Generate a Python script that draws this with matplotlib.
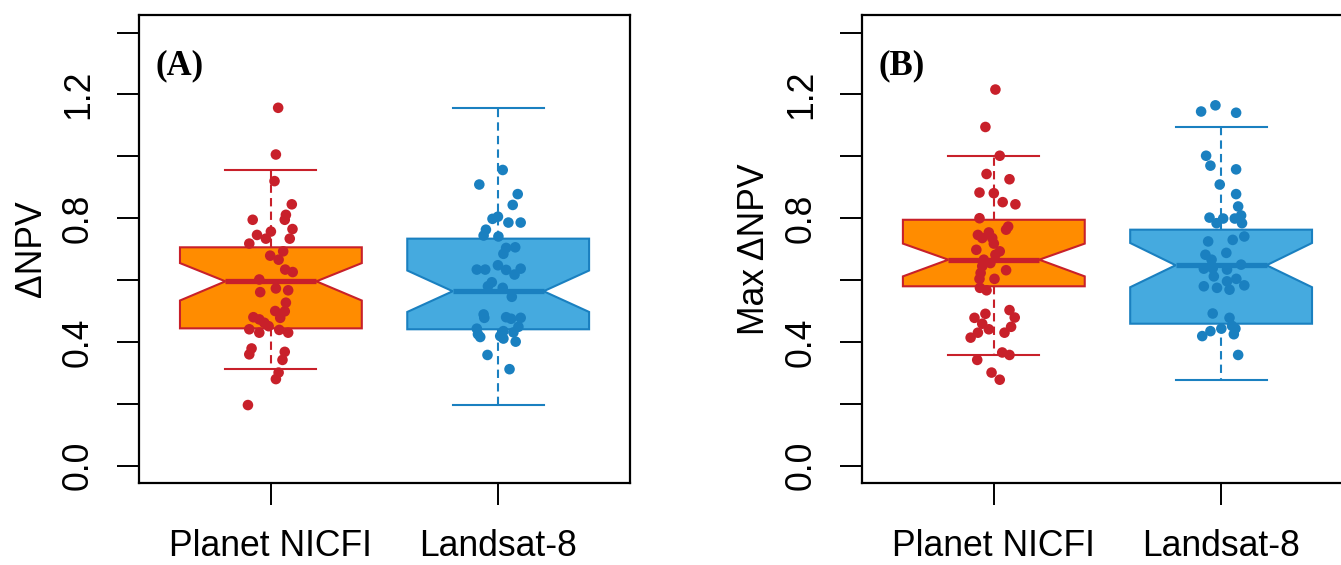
import numpy as np
import matplotlib.pyplot as plt

plt.rcParams['font.family'] = ['Liberation Sans', 'DejaVu Sans']

groups = ['Planet NICFI', 'Landsat-8']
panel_tags = ['(A)', '(B)']
y_titles = ['ΔNPV', 'Max ΔNPV']

# box statistics: [panel][group]
q1 = [[0.444, 0.441], [0.580, 0.459]]
med = [[0.596, 0.564], [0.666, 0.648]]
q3 = [[0.706, 0.734], [0.795, 0.763]]
ci_lo = [[0.534, 0.497], [0.612, 0.577]]
ci_hi = [[0.655, 0.631], [0.718, 0.720]]
whis_lo = [[0.314, 0.196], [0.358, 0.278]]
whis_hi = [[0.956, 1.157], [1.001, 1.095]]

# raw points (jittered stripchart): value and horizontal jitter
a_nicfi_y = [1.157, 1.006, 0.920, 0.845, 0.811, 0.795, 0.795, 0.765, 0.757, 0.746, 0.734, 0.734,
             0.718, 0.693, 0.679, 0.666, 0.634, 0.626, 0.602, 0.573, 0.567, 0.561, 0.527, 0.500,
             0.499, 0.478, 0.480, 0.473, 0.462, 0.451, 0.441, 0.430, 0.439, 0.430, 0.379, 0.360,
             0.368, 0.342, 0.301, 0.280, 0.196]
a_nicfi_dx = [0.032, 0.022, 0.016, 0.092, 0.066, 0.061, -0.080, 0.095, 0.000, -0.061, -0.022, 0.083,
              -0.095, 0.054, -0.003, 0.034, 0.063, 0.096, -0.051, 0.022, 0.076, -0.047, 0.066, 0.019,
              0.061, 0.041, -0.077, -0.051, -0.029, -0.010, -0.095, -0.051, 0.037, 0.076, -0.085, -0.095,
              0.061, 0.051, 0.034, 0.022, -0.101]

a_land_y = [0.956, 0.909, 0.878, 0.843, 0.805, 0.798, 0.786, 0.786, 0.763, 0.744, 0.741, 0.704,
            0.706, 0.685, 0.648, 0.634, 0.634, 0.633, 0.637, 0.618, 0.593, 0.580, 0.575, 0.546,
            0.489, 0.478, 0.480, 0.475, 0.478, 0.443, 0.449, 0.435, 0.425, 0.431, 0.419, 0.416,
            0.411, 0.401, 0.358, 0.312]
a_land_dx = [0.020, -0.083, 0.086, 0.064, -0.001, -0.025, 0.045, 0.099, -0.054, -0.064, 0.001, 0.035,
             0.075, 0.023, -0.001, -0.094, -0.057, 0.035, 0.099, 0.072, -0.028, -0.045, 0.020, 0.060,
             -0.064, -0.061, 0.035, 0.057, 0.099, -0.094, 0.089, 0.023, -0.089, 0.067, 0.009, -0.079,
             0.023, 0.077, -0.047, 0.050]

b_nicfi_y = [1.216, 1.095, 1.002, 0.943, 0.926, 0.883, 0.881, 0.852, 0.845, 0.800, 0.773, 0.763,
             0.746, 0.754, 0.736, 0.736, 0.718, 0.698, 0.693, 0.682, 0.666, 0.655, 0.645, 0.632,
             0.623, 0.604, 0.604, 0.575, 0.567, 0.503, 0.491, 0.478, 0.479, 0.459, 0.449, 0.441,
             0.430, 0.430, 0.414, 0.366, 0.358, 0.342, 0.301, 0.278]
b_nicfi_dx = [0.007, -0.037, 0.026, -0.032, 0.069, -0.063, 0.000, 0.039, 0.095, -0.063, 0.063, 0.054,
              -0.070, -0.022, -0.051, -0.007, 0.000, -0.077, 0.026, 0.007, -0.044, -0.015, -0.051, 0.054,
              -0.058, -0.063, 0.003, -0.061, -0.032, 0.069, -0.037, -0.085, 0.092, -0.051, 0.076, -0.022,
              -0.070, 0.047, -0.102, 0.037, 0.069, -0.073, -0.010, 0.026]

b_land_y = [1.145, 1.165, 1.141, 1.002, 0.970, 0.958, 0.909, 0.878, 0.838, 0.802, 0.784, 0.799,
            0.799, 0.809, 0.784, 0.741, 0.730, 0.725, 0.688, 0.682, 0.666, 0.650, 0.637, 0.638,
            0.634, 0.612, 0.604, 0.596, 0.583, 0.580, 0.575, 0.569, 0.492, 0.478, 0.452, 0.443,
            0.443, 0.435, 0.419, 0.425, 0.358]
b_land_dx = [-0.088, -0.025, 0.066, -0.066, -0.047, 0.066, -0.006, 0.066, 0.075, -0.051, -0.020, 0.009,
             0.060, 0.088, 0.092, 0.102, 0.051, -0.057, 0.023, -0.069, -0.042, 0.088, -0.076, -0.037,
             0.026, -0.032, 0.067, 0.026, 0.102, -0.076, -0.018, 0.037, -0.037, 0.037, 0.048, 0.063,
             0.001, -0.047, -0.083, 0.056, 0.075]

points_y = [[a_nicfi_y, a_land_y], [b_nicfi_y, b_land_y]]
points_dx = [[a_nicfi_dx, a_land_dx], [b_nicfi_dx, b_land_dx]]

fills = ['#FF8C00', '#45AADF']
edges = ['#C8202A', '#1A80C0']

y_ticks = np.arange(0, 1.41, 0.2)
y_ticklabels = ['0.0', '', '0.4', '', '0.8', '', '1.2', '']

fig = plt.figure(figsize=(13.41, 5.65), dpi=100)
lefts = [0.1037, 0.6428]

for p in range(2):
    ax = fig.add_axes([lefts[p], 0.1451, 0.3661, 0.8278])
    for g in range(2):
        stats = [dict(q1=q1[p][g], med=med[p][g], q3=q3[p][g], cilo=ci_lo[p][g], cihi=ci_hi[p][g],
                      whislo=whis_lo[p][g], whishi=whis_hi[p][g], fliers=[])]
        ax.bxp(stats, positions=[g + 1], widths=0.8, capwidths=0.4, patch_artist=True,
               shownotches=True, showfliers=False, manage_ticks=False,
               boxprops=dict(facecolor=fills[g], edgecolor=edges[g], linewidth=1.5),
               medianprops=dict(color=edges[g], linewidth=3.8, solid_capstyle='butt'),
               whiskerprops=dict(color=edges[g], linewidth=1.5, linestyle=(0, (4, 2.5))),
               capprops=dict(color=edges[g], linewidth=1.5))
        xs = g + 1 + np.array(points_dx[p][g])
        ax.scatter(xs, points_y[p][g], s=58, color=edges[g], edgecolors='none', zorder=4)

    ax.set_xlim(0.42, 2.58)
    ax.set_ylim(-0.056, 1.456)
    ax.set_xticks([1, 2])
    ax.set_xticklabels(groups)
    ax.set_yticks(y_ticks)
    ax.set_yticklabels(y_ticklabels, rotation=90, va='center')
    ax.tick_params(axis='both', length=16, width=1.4, labelsize=25.6, color='black')
    ax.tick_params(axis='x', pad=17)
    ax.tick_params(axis='y', pad=15)
    for s in ax.spines.values():
        s.set_linewidth(1.6)
    ax.set_ylabel(y_titles[p], fontsize=25.6)
    ax.yaxis.set_label_coords(-0.183, 0.5)
    ax.text(0.033, 0.892, panel_tags[p], transform=ax.transAxes, ha='left', va='center',
            fontsize=25, fontweight='bold', family='Liberation Serif')

fig.savefig('out.png', dpi=100)
